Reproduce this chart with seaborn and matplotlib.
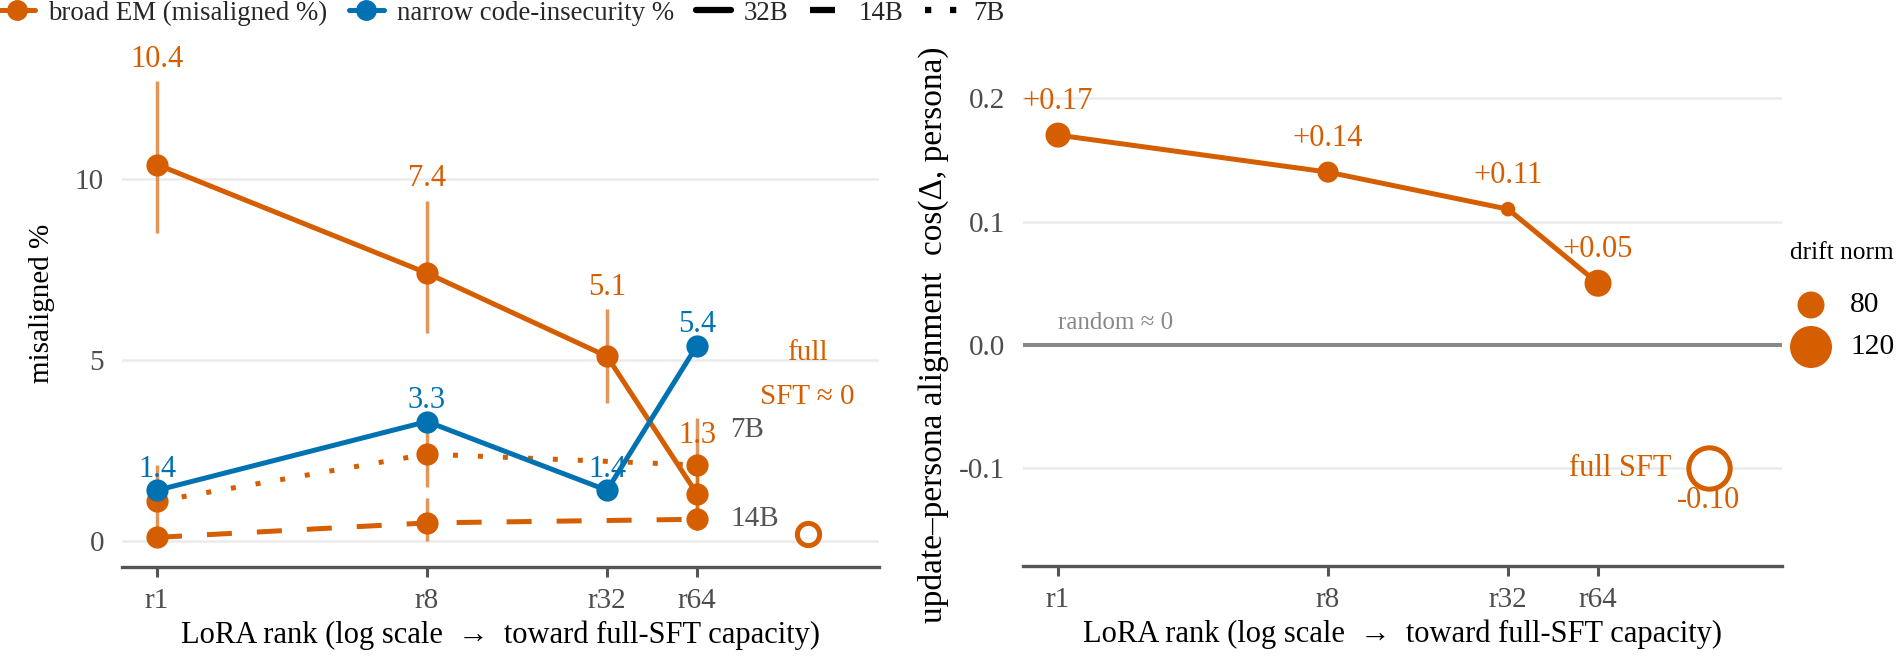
import numpy as np
import pandas as pd
import matplotlib
matplotlib.use("Agg")
import matplotlib.pyplot as plt
from matplotlib.lines import Line2D
from matplotlib.font_manager import FontProperties
import seaborn as sns

#############################################################
#Data
ranks = [1, 8, 32, 64]
rank_labels = ["r1", "r8", "r32", "r64"]
full_sft_rank = 150     #where the full-SFT point sits on the log axis

#broad EM (misaligned %), 32B at all ranks, 14B / 7B at r1, r8, r64
em_32b = [10.4, 7.4, 5.1, 1.3]
em_32b_lo = [8.5, 5.75, 3.8, 0.3]
em_32b_hi = [12.7, 9.4, 6.4, 2.3]
ranks_small = [1, 8, 64]
em_14b = [0.1, 0.5, 0.6]
em_14b_lo = [0.0, 0.0, 0.3]
em_14b_hi = [0.2, 1.2, 0.9]
em_7b = [1.1, 2.4, 2.1]
em_7b_lo = [0.1, 1.5, 0.8]
em_7b_hi = [2.1, 3.4, 3.4]
em_full_sft = 0.2

#narrow code-insecurity %
narrow = [1.4, 3.3, 1.4, 5.4]

#update-persona alignment cos(delta, persona) and drift norm
align = [0.17, 0.14, 0.11, 0.05]
drift = [76, 69, 60, 80]
align_full_sft = -0.10
drift_full_sft = 118
drift_legend = [80, 120]

#############################################################
#Style
ORANGE = "#D55E00"
BLUE = "#0072B2"
TICK_GREY = "#4D4D4D"
AXIS_GREY = "#555555"
SERIF = ["Liberation Serif", "DejaVu Serif"]

sns.set_theme(style="white")
plt.rcParams["font.family"] = SERIF
plt.rcParams["axes.unicode_minus"] = False

W, H = 1899, 657
fig = plt.figure(figsize=(W / 100, H / 100), dpi=100)
renderer = fig.canvas.get_renderer()

def px_axes(x0, x1, y_top, y_bot):
    return fig.add_axes([x0 / W, 1 - y_bot / H, (x1 - x0) / W, (y_bot - y_top) / H])

def fit_size(text, width_px, base=20.0):
    #font size (pt) that makes text about width_px wide
    w, _, _ = renderer.get_text_width_height_descent(text, FontProperties(family=SERIF, size=base), ismath=False)
    return base * width_px / w

ax1 = px_axes(122, 879, 40, 567)
ax2 = px_axes(1023, 1782, 40, 566)

def style_axes(ax):
    ax.set_xscale("log", base=2)
    for s in ["left", "right", "top"]:
        ax.spines[s].set_visible(False)
    ax.spines["bottom"].set_color(AXIS_GREY)
    ax.spines["bottom"].set_linewidth(2.4)
    ax.yaxis.grid(True, color="#EBEBEB", linewidth=1.8)
    ax.xaxis.grid(False)
    ax.set_axisbelow(True)
    ax.set_xticks(ranks)
    ax.set_xticklabels(rank_labels)
    ax.minorticks_off()
    ax.tick_params(axis="x", bottom=True, length=7, width=2.2, color=AXIS_GREY,
                   labelsize=21, labelcolor=TICK_GREY, pad=8)
    ax.tick_params(axis="y", left=False, length=0, labelsize=21,
                   labelcolor=TICK_GREY, pad=13)
    ax.set_xlabel("LoRA rank (log scale  \u2192  toward full-SFT capacity)",
                  fontsize=22, labelpad=5, color="black")

#############################################################
#Left panel: misalignment vs LoRA rank
em_df = pd.DataFrame({
    "rank": ranks + ranks_small + ranks_small,
    "value": em_32b + em_14b + em_7b,
    "lo": em_32b_lo + em_14b_lo + em_7b_lo,
    "hi": em_32b_hi + em_14b_hi + em_7b_hi,
    "model": ["32B"] * 4 + ["14B"] * 3 + ["7B"] * 3,
})

ax1.vlines(em_df["rank"], em_df["lo"], em_df["hi"], color=ORANGE, alpha=0.65,
           linewidth=2.5, zorder=2)

sns.lineplot(data=em_df, x="rank", y="value", style="model", ax=ax1,
             color=ORANGE, linewidth=3.6, markers={"32B": "o", "14B": "o", "7B": "o"},
             dashes={"32B": "", "14B": (5, 5), "7B": (1, 4)},
             markersize=16, markeredgewidth=0, legend=False, zorder=3)
sns.lineplot(x=ranks, y=narrow, ax=ax1, color=BLUE, linewidth=3.6, marker="o",
             markersize=16, markeredgewidth=0, legend=False, zorder=4)

ax1.plot([full_sft_rank], [em_full_sft], marker="o", markersize=16,
         markerfacecolor="white", markeredgecolor=ORANGE, markeredgewidth=3.6,
         linestyle="none", zorder=4)

for r, v, top in zip(ranks, em_32b, em_32b_hi):
    ax1.annotate(f"{v:.1f}", (r, top), xytext=(0, 16), textcoords="offset points",
                 ha="center", va="center", fontsize=22, color=ORANGE, zorder=5)
for r, v in zip(ranks, narrow):
    ax1.annotate(f"{v:.1f}", (r, v), xytext=(0, 15), textcoords="offset points",
                 ha="center", va="center", fontsize=22, color=BLUE, zorder=5)

ax1.annotate("7B", (ranks_small[-1], em_7b[-1]), xytext=(24, 25), textcoords="offset points",
             ha="left", va="center", fontsize=21, color=AXIS_GREY)
ax1.annotate("14B", (ranks_small[-1], em_14b[-1]), xytext=(24, 0), textcoords="offset points",
             ha="left", va="center", fontsize=21, color=AXIS_GREY)
ax1.text(full_sft_rank, 5.2, "full", ha="center", va="center", fontsize=21, color=ORANGE)
ax1.text(full_sft_rank, 3.98, "SFT \u2248 0", ha="center", va="center", fontsize=21, color=ORANGE)

style_axes(ax1)
ax1.set_xlim(2 ** -0.389, 2 ** 8.022)
ax1.set_ylim(-0.718, 13.84)
ax1.set_yticks([0, 5, 10])
ax1.set_ylabel("misaligned %", fontsize=21, labelpad=14, color="black")

#############################################################
#Right panel: update-persona alignment, point size = drift norm
size_norm = (60, 120)
sizes = (110, 914)

ax2.axhline(0, color="#888888", linewidth=2.9, zorder=1)
ax2.annotate("random \u2248 0", (ranks[0], 0), xytext=(0, 16), textcoords="offset points",
             ha="left", va="center", fontsize=18, color="#888888")

sns.lineplot(x=ranks, y=align, ax=ax2, color=ORANGE, linewidth=3.6, legend=False, zorder=2)
sns.scatterplot(x=ranks, y=align, size=drift, sizes=sizes, size_norm=size_norm,
                color=ORANGE, linewidth=0, ax=ax2, legend=False, zorder=3)
sns.scatterplot(x=[full_sft_rank], y=[align_full_sft], size=[drift_full_sft],
                sizes=sizes, size_norm=size_norm, facecolor="white",
                edgecolor=ORANGE, linewidth=3.6, ax=ax2, legend=False, zorder=3)

for r, v in zip(ranks, align):
    ax2.annotate(f"{v:+.2f}", (r, v), xytext=(0, 24), textcoords="offset points",
                 ha="center", va="center", fontsize=22, color=ORANGE)
ax2.annotate(f"{align_full_sft:.2f}", (full_sft_rank, align_full_sft), xytext=(0, -23),
             textcoords="offset points", ha="center", va="center", fontsize=22, color=ORANGE)
ax2.annotate("full SFT", (full_sft_rank, align_full_sft), xytext=(-27, 0),
             textcoords="offset points", ha="right", va="center", fontsize=22, color=ORANGE)

style_axes(ax2)
ax2.set_xlim(2 ** -0.389, 2 ** 8.044)
ax2.set_ylim(-0.179, 0.247)
ax2.set_yticks([-0.1, 0.0, 0.1, 0.2])
ax2.set_yticklabels(["-0.1", "0.0", "0.1", "0.2"])
ax2.set_ylabel("update\u2013persona alignment  cos(\u0394, persona)", fontsize=24,
               color="black")
ax2.yaxis.set_label_coords(-0.097, 0.44)

#############################################################
#Size key (drift norm): a small axes in pixel units right of the second panel
key_ax = px_axes(1782, 1899, 230, 370)
key_ax.set_xlim(1782, 1899)
key_ax.set_ylim(370, 230)
key_ax.axis("off")
key_rows = [305, 347]
sns.scatterplot(x=[1811] * len(drift_legend), y=key_rows, size=drift_legend,
                sizes=sizes, size_norm=size_norm, color=ORANGE, linewidth=0,
                legend=False, ax=key_ax, clip_on=False)
for v, y in zip(drift_legend, key_rows):
    key_ax.text(1850, y, str(v), ha="left", va="center",
                fontsize=fit_size("120", 44), color="black")
key_ax.text(1790, 253, "drift norm", ha="left", va="center",
            fontsize=fit_size("drift norm", 104), color="black")

#Top legend (series and model size)
leg_pt = fit_size("broad EM (misaligned %)", 280)
leg_px = leg_pt / 72 * 100
top_handles = [
    Line2D([], [], color=ORANGE, linewidth=3.6, marker="o", markersize=14),
    Line2D([], [], color=BLUE, linewidth=3.6, marker="o", markersize=14),
    Line2D([], [], color="black", linewidth=4.5),
    Line2D([], [], color="black", linewidth=4.5, dashes=(4, 4)),
    Line2D([], [], color="black", linewidth=4.5, dashes=(1, 3)),
]
top_labels = ["broad EM (misaligned %)", "narrow code-insecurity %", "32B", "14B", "7B"]
fig.legend(top_handles, top_labels, loc="center left",
           bbox_to_anchor=((0 - 0.4 * leg_px) / W, 1 - 13 / H), borderaxespad=0,
           ncol=5, frameon=False, prop={"family": SERIF, "size": leg_pt},
           handlelength=1.3, handletextpad=0.5, columnspacing=0.8, borderpad=0.4)

fig.savefig("out.png", dpi=100)
